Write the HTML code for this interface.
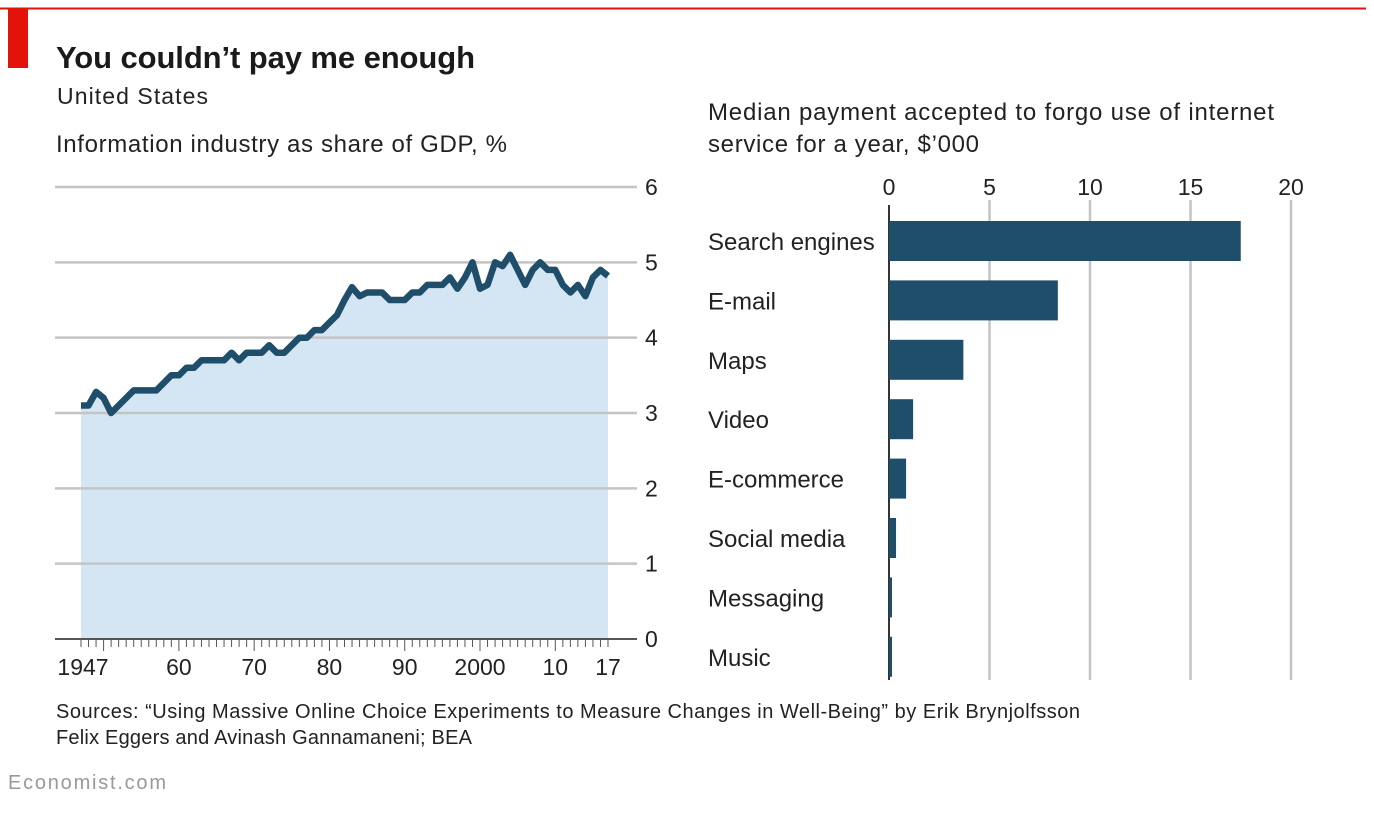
<!DOCTYPE html>
<html><head><meta charset="utf-8">
<style>
body{margin:0;background:#fff;width:1374px;height:812px;overflow:hidden}
svg text{font-family:"Liberation Sans",sans-serif}
</style></head>
<body>
<svg id="c" width="1374" height="812" xmlns="http://www.w3.org/2000/svg">
<line x1="0" y1="8.5" x2="1366" y2="8.5" stroke="#e3120b" stroke-width="2"/>
<rect x="8" y="9" width="20" height="59" fill="#e3120b"/>
<text x="56" y="68" font-size="31" font-weight="bold" fill="#1a1a1a" textLength="419">You couldn’t pay me enough</text>
<text x="57" y="104" font-size="23" fill="#222" textLength="151">United States</text>
<text x="56" y="152" font-size="24" fill="#222" textLength="451">Information industry as share of GDP, %</text>
<text x="708" y="120" font-size="24" fill="#222" textLength="566">Median payment accepted to forgo use of internet</text>
<text x="708" y="152" font-size="24" fill="#222" textLength="271">service for a year, $’000</text>
<g id="left"></g>
<g id="right"></g>
<text x="56" y="718" font-size="20" fill="#222" textLength="1024">Sources: “Using Massive Online Choice Experiments to Measure Changes in Well-Being” by Erik Brynjolfsson</text>
<text x="56" y="744" font-size="20" fill="#222" textLength="416">Felix Eggers and Avinash Gannamaneni; BEA</text>
<text x="8" y="789" font-size="20" fill="#999" textLength="158">Economist.com</text>
</svg>
<script>
const years=[];for(let y=1947;y<=2017;y++)years.push(y);
const gdpShare=[3.1,3.1,3.28,3.2,3.0,3.1,3.2,3.3,3.3,3.3,3.3,3.4,3.5,3.5,3.6,3.6,3.7,3.7,3.7,3.7,3.8,3.7,3.8,3.8,3.8,3.9,3.8,3.8,3.9,4.0,4.0,4.1,4.1,4.2,4.3,4.5,4.67,4.55,4.6,4.6,4.6,4.5,4.5,4.5,4.6,4.6,4.7,4.7,4.7,4.8,4.65,4.8,5.0,4.65,4.7,5.0,4.95,5.1,4.9,4.7,4.9,5.0,4.9,4.9,4.7,4.6,4.7,4.55,4.8,4.9,4.82];
const yTicks=[0,1,2,3,4,5,6];
const xLabels=["1947","60","70","80","90","2000","10","17"];
const xLabelYears=[1947,1960,1970,1980,1990,2000,2010,2017];
const categories=["Search engines","E-mail","Maps","Video","E-commerce","Social media","Messaging","Music"];
const payments=[17.5,8.4,3.7,1.2,0.85,0.35,0.15,0.15];
const xTicks=[0,5,10,15,20];
const NS="http://www.w3.org/2000/svg";
function mk(tag,attrs,parent,txt){const e=document.createElementNS(NS,tag);for(const k in attrs)e.setAttribute(k,attrs[k]);if(txt!==undefined)e.textContent=txt;parent.appendChild(e);return e;}
const L=document.getElementById('left');
const xs=y=>81+(y-1947)*(608-81)/70;
const ys=v=>639-v*(639-187)/6;
yTicks.forEach(t=>{
  const g=mk('line',{x1:55,x2:637,y1:ys(t),y2:ys(t),stroke:t===0?'#555':'#c4c4c4','stroke-width':t===0?2:2.5},L);
  
  
  const tx=mk('text',{x:645,y:ys(t)+8,'font-size':23,fill:'#222'},L,String(t));
  
  
});
let d='';years.forEach((y,i)=>{d+=(i?'L':'M')+xs(y).toFixed(1)+','+ys(gdpShare[i]).toFixed(1);});
const area=mk('path',{d:d+'L'+xs(2017)+','+ys(0)+'L'+xs(1947)+','+ys(0)+'Z',fill:'#d4e6f4'},L);


L.insertBefore(area,L.firstChild);
const ln=mk('path',{d:d,fill:'none',stroke:'#1f4e6b','stroke-width':6.5,'stroke-linejoin':'round'},L);


years.forEach(y=>{
  const long=(y%10===0);
  const tk=mk('line',{x1:xs(y),x2:xs(y),y1:640,y2:long?651:647,stroke:'#555','stroke-width':1},L);
  
  
});
xLabelYears.forEach((y,i)=>{
  const tx=mk('text',{x:xs(y)+(i===0?2:0),y:675,'font-size':23,fill:'#222','text-anchor':'middle'},L,xLabels[i]);
  
  
});
const R=document.getElementById('right');
const bx=v=>889+v*(1291-889)/20;
xTicks.forEach(t=>{
  const g=mk('line',{x1:bx(t),x2:bx(t),y1:t===0?205:200,y2:680,stroke:t===0?'#333':'#c4c4c4','stroke-width':t===0?2:2.5},R);
  
  
  const tx=mk('text',{x:bx(t),y:195,'font-size':23,fill:'#222','text-anchor':'middle'},R,String(t));
  
  
});
categories.forEach((c,i)=>{
  const cy=241+i*59.4;
  const b=mk('rect',{x:889,y:cy-20,width:bx(payments[i])-889,height:40,fill:'#1f4e6b'},R);
  
  
  const tx=mk('text',{x:708,y:cy+9,'font-size':24,fill:'#222'},R,c);
  
  
});
</script>
</body></html>
